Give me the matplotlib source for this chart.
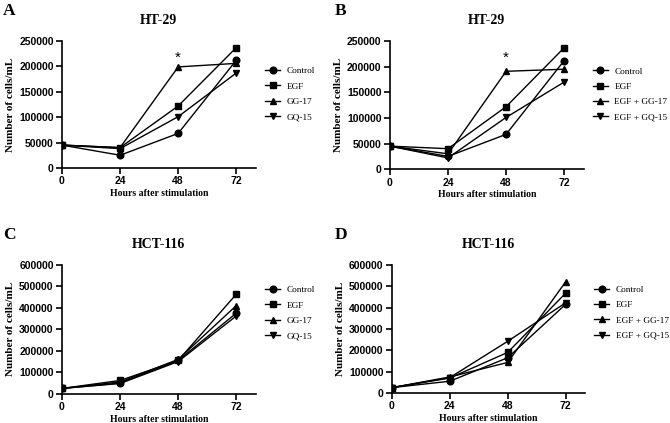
import matplotlib
matplotlib.use('Agg')
import matplotlib.pyplot as plt

hours = [0, 24, 48, 72]

# HT-29 (A)
a_control = [45000, 25000, 68000, 212000]
a_egf = [45000, 40000, 122000, 237000]
a_gg17 = [45000, 40000, 199000, 206000]
a_gq15 = [45000, 38000, 101000, 187000]

# HT-29 (B)
b_control = [45000, 25000, 68000, 212000]
b_egf = [45000, 40000, 122000, 237000]
b_gg17 = [45000, 30000, 191000, 195000]
b_gq15 = [45000, 22000, 101000, 170000]

# HCT-116 (C)
c_control = [25000, 50000, 155000, 375000]
c_egf = [25000, 62000, 155000, 463000]
c_gg17 = [25000, 55000, 160000, 410000]
c_gq15 = [25000, 48000, 150000, 362000]

# HCT-116 (D)
d_control = [25000, 55000, 165000, 415000]
d_egf = [25000, 70000, 190000, 467000]
d_gg17 = [25000, 75000, 143000, 520000]
d_gq15 = [25000, 72000, 242000, 422000]

labels_single = ['Control', 'EGF', 'GG-17', 'GQ-15']
labels_combo = ['Control', 'EGF', 'EGF + GG-17', 'EGF + GQ-15']
markers = ['o', 's', '^', 'v']

serif = 'Liberation Serif'
sans = 'Liberation Sans'

fig = plt.figure(figsize=(6.7, 4.23), dpi=100)

panels = [
    ('A', 'HT-29', [0.0925, 0.603, 0.289, 0.300], [a_control, a_egf, a_gg17, a_gq15], labels_single, 250000, 50000, True, 0.84),
    ('B', 'HT-29', [0.582, 0.600, 0.289, 0.303], [b_control, b_egf, b_gg17, b_gq15], labels_combo, 250000, 50000, True, 0.84),
    ('C', 'HCT-116', [0.0925, 0.069, 0.289, 0.305], [c_control, c_egf, c_gg17, c_gq15], labels_single, 600000, 100000, False, 0.88),
    ('D', 'HCT-116', [0.585, 0.071, 0.288, 0.303], [d_control, d_egf, d_gg17, d_gq15], labels_combo, 600000, 100000, False, 0.88),
]

for letter, title, rect, series, labels, ymax, ystep, star, leg_y in panels:
    ax = fig.add_axes(rect)
    for vals, lab, m in zip(series, labels, markers):
        ax.plot(hours, vals, color='black', lw=1, marker=m, ms=4.8, label=lab)
    ax.set_xlim(0, 80)
    ax.set_ylim(0, ymax)
    ax.set_xticks(hours)
    ax.set_yticks(range(0, ymax + 1, ystep))
    for s in ['top', 'right']:
        ax.spines[s].set_visible(False)
    for s in ['left', 'bottom']:
        ax.spines[s].set_linewidth(1.2)
    ax.tick_params(direction='out', length=4, width=1.2, pad=2)
    for t in ax.get_xticklabels() + ax.get_yticklabels():
        t.set_fontfamily(sans)
        t.set_fontweight('bold')
        t.set_fontsize(7.5)
    ax.set_title(title, fontfamily=serif, fontweight='bold', fontsize=10, pad=12)
    ax.set_xlabel('Hours after stimulation', fontfamily=serif, fontweight='bold', fontsize=7, labelpad=2)
    ax.set_ylabel('Number of cells/mL', fontfamily=serif, fontweight='bold', fontsize=8, labelpad=3)
    if star:
        ax.text(48, 203000, '*', ha='center', va='bottom', fontsize=11, fontfamily=sans)
    ax.legend(loc='upper left', bbox_to_anchor=(1.02, leg_y), frameon=False,
              prop={'family': serif, 'size': 6.7}, handlelength=1.6,
              labelspacing=0.72, handletextpad=0.7, borderaxespad=0.2)
    bb = ax.get_position()
    fig.text(0.004 if rect[0] < 0.5 else 0.5, bb.y1 + 0.09, letter,
             fontfamily=serif, fontweight='bold', fontsize=12.5, va='top')

fig.savefig('out.png', dpi=100)
